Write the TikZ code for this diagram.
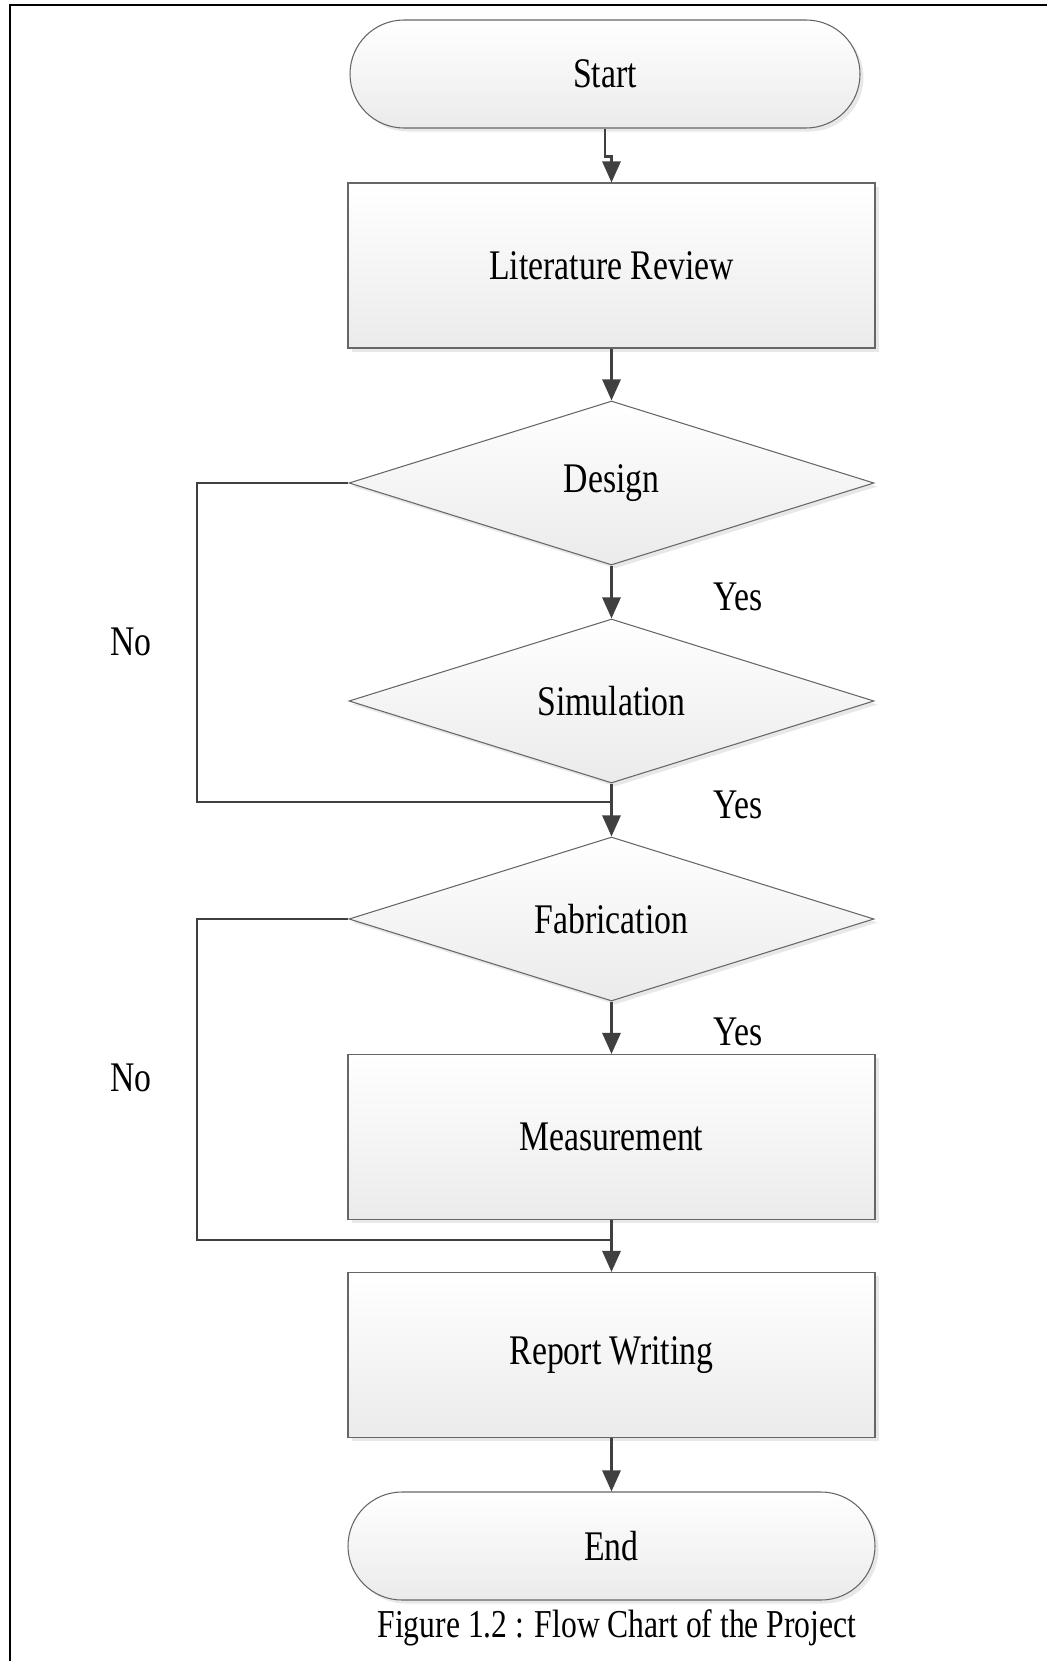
\documentclass[tikz,border=0pt]{standalone}
\usepackage{fontspec}
\setmainfont{Liberation Serif}[FakeStretch=0.8]
\usetikzlibrary{shapes.geometric,shadows,arrows.meta}

\begin{document}
\begin{tikzpicture}[
	font=\fontsize{24}{28}\selectfont,
	shape base/.style={draw=black!60, line width=0.6pt, top color=white, bottom color=black!8,
		drop shadow={shadow xshift=0.07cm, shadow yshift=-0.07cm, fill=black!18}},
	terminal/.style={shape base, rectangle, rounded corners=1.08cm, minimum height=2.16cm},
	process/.style={shape base, rectangle, minimum width=10.54cm, minimum height=3.3cm},
	decision/.style={shape base, diamond, inner sep=0pt, shape aspect=3.2, minimum width=10.5cm, minimum height=3.28cm},
	flow/.style={draw=black!75, line width=1.6pt, -{Triangle[width=0.36cm,length=0.42cm]}},
	link/.style={draw=black!75, line width=1.6pt}
	]
	\useasboundingbox (0,0) rectangle (20.94,-33.22);
	\draw[line width=1.6pt] (0.2,-33.22) -- (0.2,-0.1) -- (20.94,-0.1);

	\node[terminal, minimum width=10.2cm] (start) at (12.1,-1.48) {Start};
	\node[process] (lit) at (12.23,-5.31) {Literature Review};
	\node[decision] (design) at (12.23,-9.66) {Design};
	\node[decision] (sim) at (12.23,-14.02) {Simulation};
	\node[decision] (fab) at (12.23,-18.38) {Fabrication};
	\node[process] (meas) at (12.23,-22.74) {Measurement};
	\node[process] (report) at (12.23,-27.1) {Report Writing};
	\node[terminal, minimum width=10.54cm] (end) at (12.23,-30.92) {End};
	\node[font=\fontsize{22.5}{26}\selectfont] (caption) at (12.34,-32.56) {Figure 1.2 : Flow Chart of the Project};

	\coordinate (join1) at (12.23,-16.04);
	\coordinate (back1) at (3.94,-16.04);
	\coordinate (join2) at (12.23,-24.8);
	\coordinate (back2) at (3.94,-24.8);

	\draw[flow] (start.south) -- ++(0,-0.56) -| (lit.north);
	\draw[flow] (lit) -- (design);
	\draw[flow] (design) -- (sim);
	\draw[flow] (sim) -- (fab);
	\draw[flow] (fab) -- (meas);
	\draw[flow] (meas) -- (report);
	\draw[flow] (report) -- (end);
	\draw[link] (design.west) -| (back1) -- (join1);
	\draw[link] (fab.west) -| (back2) -- (join2);

	\node (no1) at (2.62,-12.84) {No};
	\node (no2) at (2.62,-21.56) {No};
	\node (yes1) at (14.76,-11.94) {Yes};
	\node (yes2) at (14.76,-16.1) {Yes};
	\node (yes3) at (14.76,-20.64) {Yes};
\end{tikzpicture}
\end{document}
